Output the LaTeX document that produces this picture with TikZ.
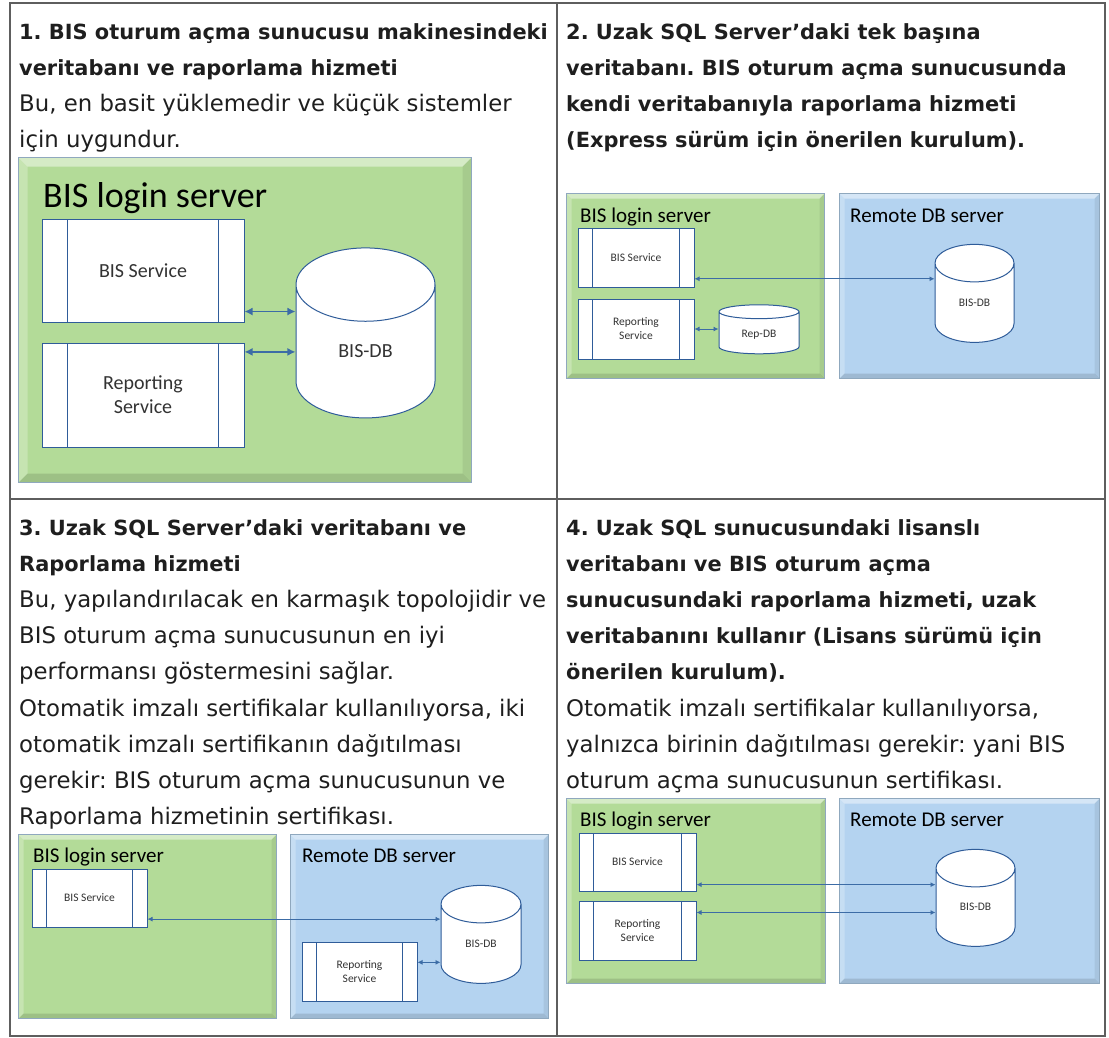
\documentclass[tikz,border=0pt]{standalone}
\usepackage{fontspec}
\setmainfont{DejaVu Sans}
\newfontfamily\dgfont{Carlito}
\usetikzlibrary{shapes.geometric,arrows.meta,calc}
\definecolor{grn}{HTML}{B3DB98}
\definecolor{blu}{HTML}{B4D3F0}
\definecolor{frm}{HTML}{8FA8BE}
\definecolor{boxc}{HTML}{2F5C99}
\definecolor{arr}{HTML}{3C6CA6}
\definecolor{rule}{HTML}{5E5E5E}
\definecolor{ink}{HTML}{1E1E1E}
\frenchspacing

\begin{document}
\begin{tikzpicture}[x=1pt, y=-1pt,
  txt/.style = {anchor=base west, inner sep=0pt, text=ink, font=\fontsize{22.8}{24}\selectfont},
  hd/.style = {txt, font=\fontsize{20.9}{24}\selectfont\bfseries},
  srv/.style = {draw=frm, line width=1.2pt, anchor=north west, inner sep=0pt,
    path picture={
      \fill[white, opacity=.45] (path picture bounding box.north west) -- (path picture bounding box.north east)
        -- ([shift={(-#1,#1)}]path picture bounding box.north east) -- ([shift={(#1,#1)}]path picture bounding box.north west) -- cycle;
      \fill[white, opacity=.25] (path picture bounding box.north west) -- ([shift={(#1,#1)}]path picture bounding box.north west)
        -- ([shift={(#1,-#1)}]path picture bounding box.south west) -- (path picture bounding box.south west) -- cycle;
      \fill[black, opacity=.07] (path picture bounding box.north east) -- (path picture bounding box.south east)
        -- ([shift={(-#1,-#1)}]path picture bounding box.south east) -- ([shift={(-#1,#1)}]path picture bounding box.north east) -- cycle;
      \fill[black, opacity=.12] (path picture bounding box.south west) -- (path picture bounding box.south east)
        -- ([shift={(-#1,-#1)}]path picture bounding box.south east) -- ([shift={(#1,-#1)}]path picture bounding box.south west) -- cycle;
    }},
  ttl/.style = {anchor=base west, inner sep=0pt, text=black},
  svc/.style = {draw=boxc, fill=white, line width=1pt, inner sep=0pt, align=center, text=black!80,
    path picture={
      \draw[boxc, line width=1pt]
        ($(path picture bounding box.north west)!.125!(path picture bounding box.north east)$) --
        ($(path picture bounding box.south west)!.125!(path picture bounding box.south east)$)
        ($(path picture bounding box.north west)!.875!(path picture bounding box.north east)$) --
        ($(path picture bounding box.south west)!.875!(path picture bounding box.south east)$);
    }},
  db/.style = {cylinder, shape border rotate=90, draw=boxc, fill=white, line width=1pt, inner sep=0pt, text=black!80},
  link/.style = {arr, line width=1.6pt, <->, >={Latex[length=8pt, width=8pt]}},
  link2/.style = {arr, line width=.9pt, <->, >={Latex[length=5pt, width=5pt]}},
  big/.style = {font=\dgfont\fontsize{20}{24}\selectfont},
  small/.style = {font=\dgfont\fontsize{11.5}{14}\selectfont},
  head/.style = {ttl, font=\dgfont\fontsize{21}{24}\selectfont}
]
\useasboundingbox (0,0) rectangle (1109,1037);

% cell 1
\node[hd] (h1a) at (19,39) {1. BIS oturum açma sunucusu makinesindeki};
\node[hd] (h1b) at (19,75) {veritabanı ve raporlama hizmeti};
\node[txt] (t1a) at (19,111) {Bu, en basit yüklemedir ve küçük sistemler};
\node[txt] (t1b) at (19,147) {için uygundur.};

\node[srv=9, fill=grn, minimum width=453pt, minimum height=325pt] (g1) at (18,157) {};
\node[ttl, font=\dgfont\fontsize{36}{40}\selectfont] (g1t) at (43,207) {BIS login server};
\node[svc, big, minimum width=202pt, minimum height=103pt] (s1) at (143,270.5) {BIS Service};
\node[svc, big, minimum width=202pt, minimum height=104pt] (r1) at (143,395) {Reporting\\Service};
\node[db, big, minimum width=139pt, minimum height=170pt, aspect=1.35] (d1) at (365.5,351.5) {\raisebox{-5.5pt}[0pt][0pt]{BIS-DB}};
\draw[link] (s1.-22) -- (s1.-22 -| d1.west);
\draw[link] (r1.23) -- (r1.23 -| d1.west);

% cell 2
\node[hd] (h2a) at (566,39) {2. Uzak SQL Server'daki tek başına};
\node[hd] (h2b) at (566,75) {veritabanı. BIS oturum açma sunucusunda};
\node[hd] (h2c) at (566,111) {kendi veritabanıyla raporlama hizmeti};
\node[hd] (h2d) at (566,147) {(Express sürüm için önerilen kurulum).};

\node[srv=5, fill=grn, minimum width=258pt, minimum height=185pt] (g2) at (566,193) {};
\node[srv=5, fill=blu, minimum width=260pt, minimum height=185pt] (b2) at (839,193) {};
\node[head] (g2t) at (580,222) {BIS login server};
\node[head] (b2t) at (850,222) {Remote DB server};
\node[svc, small, minimum width=116pt, minimum height=59pt] (s2) at (636,257.5) {BIS Service};
\node[svc, small, minimum width=116pt, minimum height=60pt] (r2) at (636,329) {Reporting\\Service};
\node[db, small, minimum width=80pt, minimum height=49pt, aspect=.4] (rd2) at (759,333) {\raisebox{-4pt}[0pt][0pt]{Rep-DB}};
\node[db, small, minimum width=79pt, minimum height=98pt, aspect=1.2] (d2) at (974.5,303) {\raisebox{-3pt}[0pt][0pt]{BIS-DB}};
\draw[link2] (s2.-20) -- (s2.-20 -| d2.west);
\draw[link2] (r2.east) -- (r2.east -| rd2.west);

% cell 3
\node[hd] (h3a) at (19,535) {3. Uzak SQL Server'daki veritabanı ve};
\node[hd] (h3b) at (19,571.2) {Raporlama hizmeti};
\node[txt] (t3a) at (19,607.4) {Bu, yapılandırılacak en karmaşık topolojidir ve};
\node[txt] (t3b) at (19,643.6) {BIS oturum açma sunucusunun en iyi};
\node[txt] (t3c) at (19,679.8) {performansı göstermesini sağlar.};
\node[txt] (t3d) at (19,716) {Otomatik imzalı sertifikalar kullanılıyorsa, iki};
\node[txt] (t3e) at (19,752.2) {otomatik imzalı sertifikanın dağıtılması};
\node[txt] (t3f) at (19,788.4) {gerekir: BIS oturum açma sunucusunun ve};
\node[txt] (t3g) at (19,824.6) {Raporlama hizmetinin sertifikası.};

\node[srv=5, fill=grn, minimum width=258pt, minimum height=184pt] (g3) at (18,834) {};
\node[srv=5, fill=blu, minimum width=258pt, minimum height=184pt] (b3) at (290,834) {};
\node[head] (g3t) at (33,862) {BIS login server};
\node[head] (b3t) at (302,862) {Remote DB server};
\node[svc, small, minimum width=115pt, minimum height=58pt] (s3) at (89.5,898) {BIS Service};
\node[db, small, minimum width=80pt, minimum height=98pt, aspect=1.2] (d3) at (481,944) {\raisebox{-3pt}[0pt][0pt]{BIS-DB}};
\node[svc, small, minimum width=115pt, minimum height=59pt] (r3) at (359.5,971.5) {Reporting\\Service};
\draw[link2] (s3.-20) -- (s3.-20 -| d3.west);
\draw[link2] (r3.9) -- (r3.9 -| d3.west);

% cell 4
\node[hd] (h4a) at (566,535) {4. Uzak SQL sunucusundaki lisanslı};
\node[hd] (h4b) at (566,571.2) {veritabanı ve BIS oturum açma};
\node[hd] (h4c) at (566,607.4) {sunucusundaki raporlama hizmeti, uzak};
\node[hd] (h4d) at (566,643.6) {veritabanını kullanır (Lisans sürümü için};
\node[hd] (h4e) at (566,679.8) {önerilen kurulum).};
\node[txt] (t4a) at (566,716) {Otomatik imzalı sertifikalar kullanılıyorsa,};
\node[txt] (t4b) at (566,752.2) {yalnızca birinin dağıtılması gerekir: yani BIS};
\node[txt] (t4c) at (566,788.4) {oturum açma sunucusunun sertifikası.};

\node[srv=5, fill=grn, minimum width=259pt, minimum height=185pt] (g4) at (566,798) {};
\node[srv=5, fill=blu, minimum width=260pt, minimum height=185pt] (b4) at (839,798) {};
\node[head] (g4t) at (580,826) {BIS login server};
\node[head] (b4t) at (850,826) {Remote DB server};
\node[svc, small, minimum width=117pt, minimum height=58pt] (s4) at (637.5,862) {BIS Service};
\node[svc, small, minimum width=117pt, minimum height=59pt] (r4) at (637.5,930.5) {Reporting\\Service};
\node[db, small, minimum width=79pt, minimum height=97pt, aspect=1.2] (d4) at (975.5,907.5) {\raisebox{-3pt}[0pt][0pt]{BIS-DB}};
\draw[link2] (s4.-21) -- (s4.-21 -| d4.west);
\draw[link2] (r4.17) -- (r4.17 -| d4.west);

% table
\draw[rule, line width=1.5pt] (10,3) rectangle (1105,1036);
\draw[rule, line width=1.5pt] (557,3) -- (557,1036);
\draw[rule, line width=1.5pt] (10,499) -- (1105,499);
\end{tikzpicture}
\end{document}
